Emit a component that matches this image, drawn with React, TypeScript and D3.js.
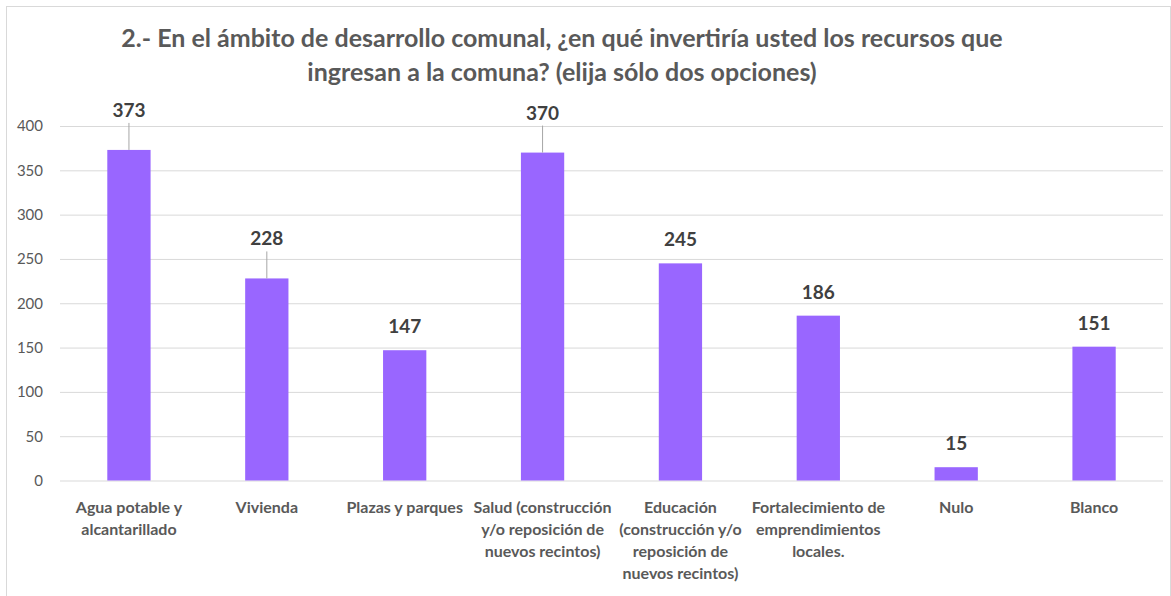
import React from "react"
import * as d3 from "d3"

// datos
const categorias = [
  ["Agua potable y", "alcantarillado"],
  ["Vivienda"],
  ["Plazas y parques"],
  ["Salud (construcción", "y/o reposición de", "nuevos recintos)"],
  ["Educación", "(construcción y/o", "reposición de", "nuevos recintos)"],
  ["Fortalecimiento de", "emprendimientos", "locales."],
  ["Nulo"],
  ["Blanco"],
]
const valores = [373, 228, 147, 370, 245, 186, 15, 151]
// etiquetas que llevan línea guía hasta la barra
const conGuia = [true, true, false, true, false, false, false, false]
const ticksY = [0, 50, 100, 150, 200, 250, 300, 350, 400]
const titulo = [
  "2.- En el ámbito de desarrollo comunal, ¿en qué invertiría usted los recursos que",
  "ingresan a la comuna? (elija sólo dos opciones)",
]

export default function App() {
  const ref = React.useRef<SVGSVGElement>(null)

  React.useEffect(() => {
    const width = 1171
    const height = 596
    const margin = { top: 126, right: 8, bottom: 115.5, left: 60 }
    const gris = "#595959"
    const fuente = "Lato, 'Open Sans', sans-serif"

    const svg = d3.select(ref.current)
    svg.selectAll("*").remove()
    svg.attr("width", width).attr("height", height)

    const nombres = categorias.map((c) => c.join(" "))
    const datos = nombres.map((n, i) => ({ n, v: valores[i], lineas: categorias[i], guia: conGuia[i] }))

    const x = d3
      .scaleBand()
      .domain(nombres)
      .range([margin.left, width - margin.right])
      .paddingInner(0.686)
      .paddingOuter(0.343)

    const y = d3
      .scaleLinear()
      .domain([0, 400])
      .range([height - margin.bottom, margin.top])

    // fondo y borde
    svg.append("rect").attr("width", width).attr("height", height).attr("fill", "white")
    svg
      .append("rect")
      .attr("x", 6.5)
      .attr("y", 6.5)
      .attr("width", 1164)
      .attr("height", 620)
      .attr("fill", "none")
      .attr("stroke", "#d9d9d9")

    // título
    svg
      .append("g")
      .selectAll("text")
      .data(titulo)
      .enter()
      .append("text")
      .attr("x", 562)
      .attr("y", (d, i) => 47 + i * 34)
      .attr("text-anchor", "middle")
      .attr("font-family", fuente)
      .attr("font-weight", "bold")
      .attr("font-size", 25)
      .attr("fill", gris)
      .text((d) => d)

    // eje y + cuadrícula
    const yAxis = (g) =>
      g
        .attr("transform", `translate(${margin.left},0)`)
        .call(d3.axisLeft(y).tickValues(ticksY).tickSize(0).tickPadding(17))
        .call((g) => g.select(".domain").remove())
        .call((g) =>
          g
            .selectAll(".tick line")
            .attr("x2", width - margin.right - margin.left)
            .attr("stroke", "#d9d9d9")
        )
        .call((g) =>
          g
            .selectAll(".tick text")
            .attr("fill", gris)
            .attr("font-family", fuente)
            .attr("font-size", 15)
        )
    svg.append("g").call(yAxis)

    // barras
    svg
      .append("g")
      .selectAll("rect")
      .data(datos)
      .enter()
      .append("rect")
      .attr("x", (d) => x(d.n))
      .attr("y", (d) => y(d.v))
      .attr("width", x.bandwidth())
      .attr("height", (d) => y(0) - y(d.v))
      .attr("fill", "#9966ff")

    // líneas guía
    svg
      .append("g")
      .selectAll("line")
      .data(datos.filter((d) => d.guia))
      .enter()
      .append("line")
      .attr("x1", (d) => x(d.n) + x.bandwidth() / 2)
      .attr("x2", (d) => x(d.n) + x.bandwidth() / 2)
      .attr("y1", (d) => y(d.v) - 27)
      .attr("y2", (d) => y(d.v))
      .attr("stroke", "#a6a6a6")

    // etiquetas de valor
    svg
      .append("g")
      .selectAll("text")
      .data(datos)
      .enter()
      .append("text")
      .attr("x", (d) => x(d.n) + x.bandwidth() / 2)
      .attr("y", (d) => y(d.v) - (d.guia ? 33 : 17))
      .attr("text-anchor", "middle")
      .attr("font-family", fuente)
      .attr("font-weight", "bold")
      .attr("font-size", 19)
      .attr("fill", "#404040")
      .text((d) => d.v)

    // etiquetas de categoría
    const cat = svg
      .append("g")
      .selectAll("text")
      .data(datos)
      .enter()
      .append("text")
      .attr("text-anchor", "middle")
      .attr("font-family", fuente)
      .attr("font-weight", "bold")
      .attr("font-size", 16)
      .attr("fill", gris)
    cat
      .selectAll("tspan")
      .data((d) => d.lineas.map((l) => ({ l, cx: x(d.n) + x.bandwidth() / 2 })))
      .enter()
      .append("tspan")
      .attr("x", (d) => d.cx)
      .attr("y", (d, i) => 513 + i * 22)
      .text((d) => d.l)
  }, [])

  return (
    <div style={{ position: "absolute", left: 0, top: 0 }}>
      <svg ref={ref} style={{ display: "block" }}></svg>
    </div>
  )
}
